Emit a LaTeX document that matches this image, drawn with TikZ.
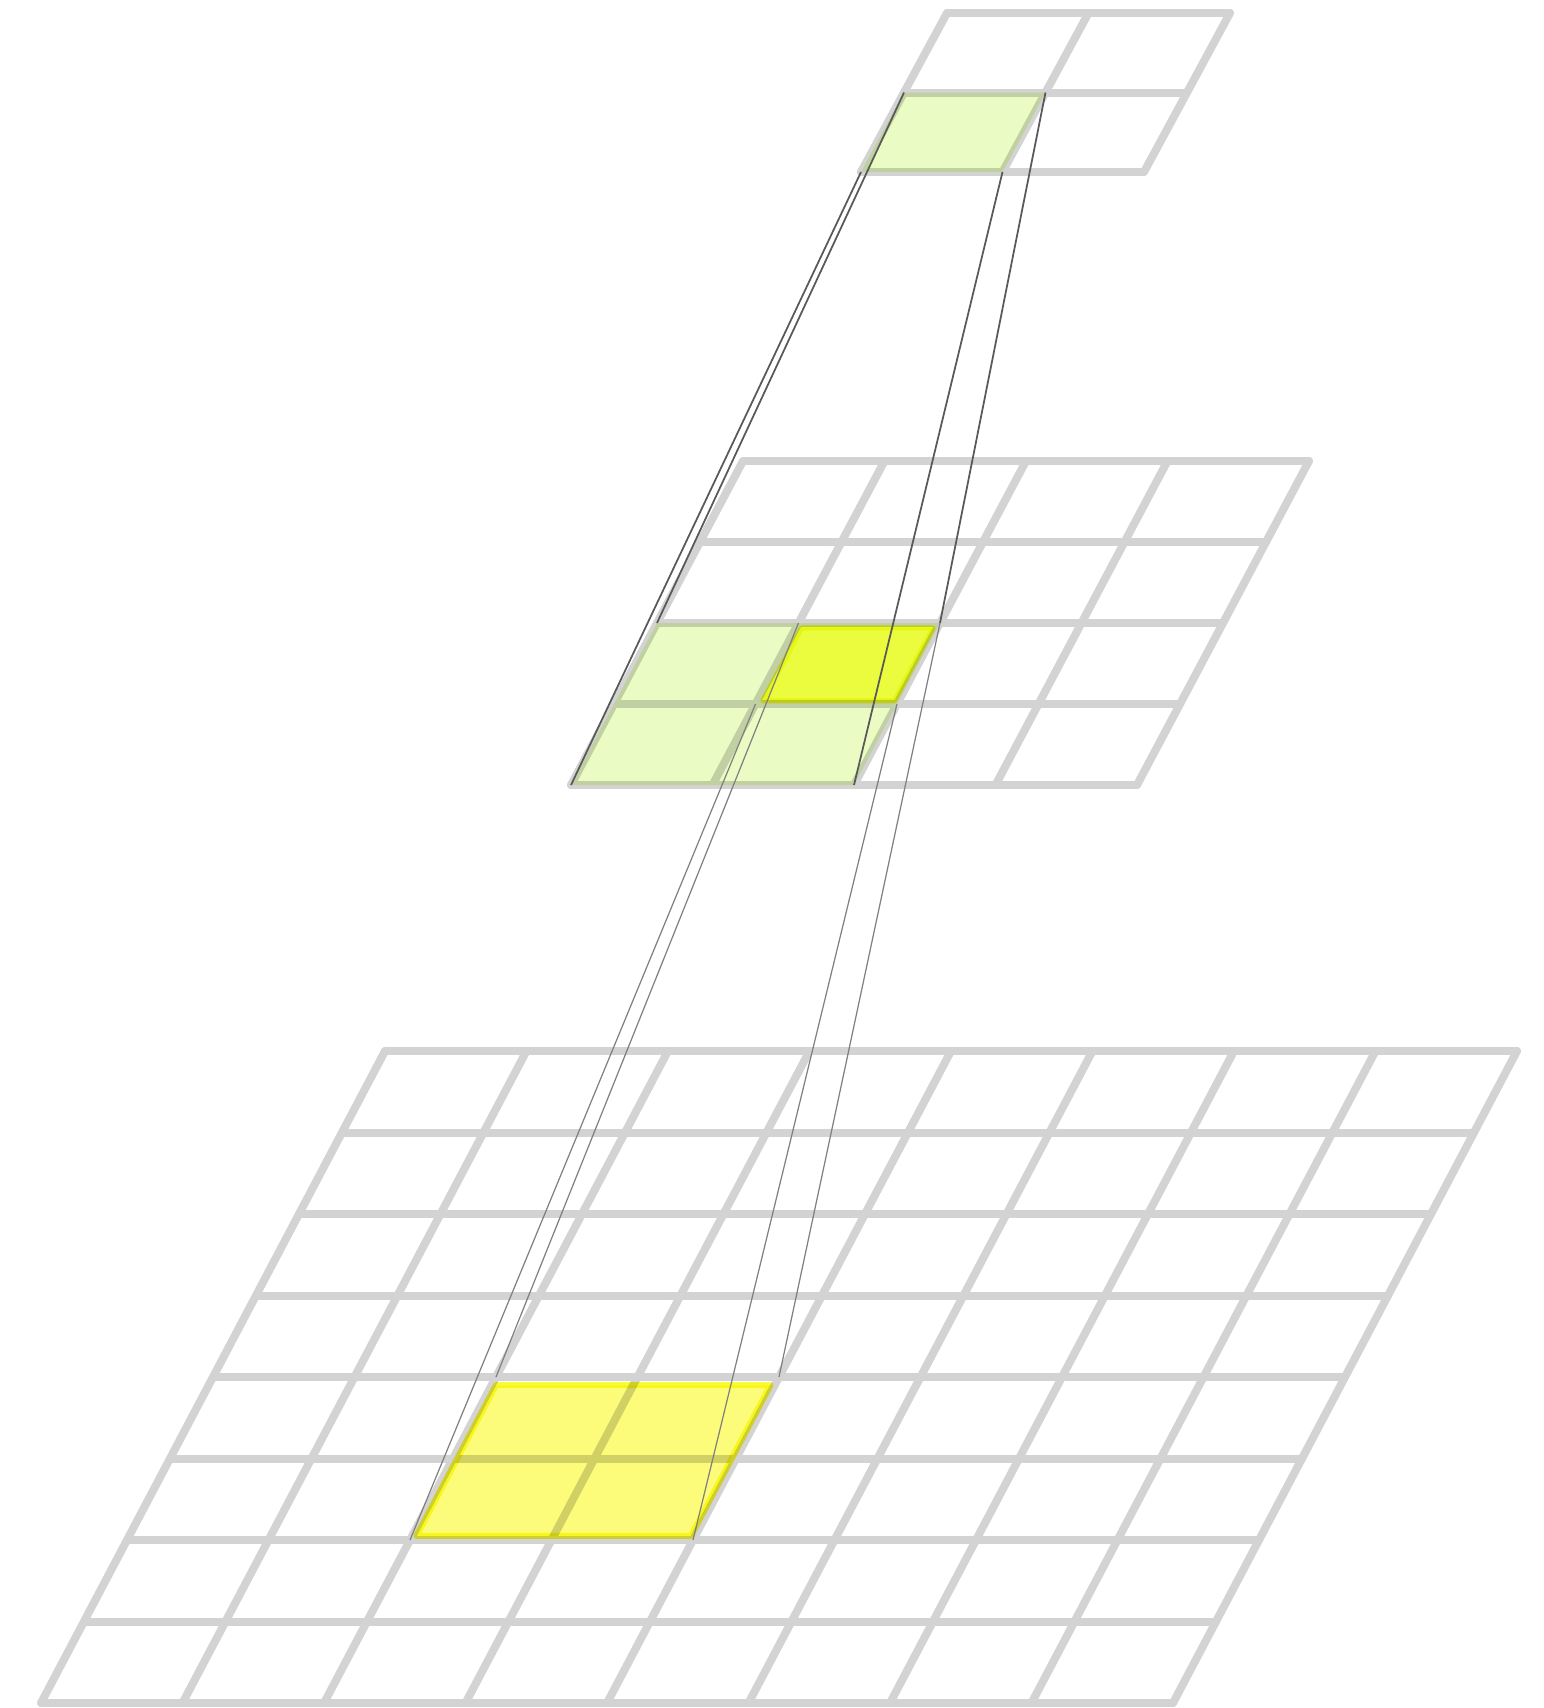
\documentclass[tikz,border=0pt]{standalone}
\usepackage{tikz}
\usepackage{xcolor}
\usetikzlibrary{calc}
\definecolor{gridgray}{RGB}{211,211,211}
\definecolor{cellgreen}{RGB}{234,252,196}
\definecolor{cellyellow}{RGB}{255,255,80}
\definecolor{blockyellow}{RGB}{252,252,122}
\definecolor{edgeyellow}{RGB}{250,250,60}

\begin{document}
\begin{tikzpicture}[
    gridline/.style={gridgray, line width=0.08cm, line cap=round, line join=round},
    greencell/.style={fill=cellgreen},
    yellowcell/.style={fill=cellyellow, draw=edgeyellow, line width=0.05cm, line join=round},
    yellowblock/.style={fill=blockyellow, draw=edgeyellow, line width=0.06cm, line join=round},
    link/.style={black!65, line width=0.5pt},
    thinlink/.style={black!50, line width=0.35pt}
  ]
  \def\cw{1.415}
  \def\sk{0.43}
  \useasboundingbox (0,0) rectangle (15.43,-17.08);

  % top layer, 2x2
  \begin{scope}[shift={(9.47,-0.13)}, x={(\cw cm,0cm)}, y={(-\sk cm,-0.795cm)}]
    \foreach \k in {0,...,2}{
      \draw[gridline] (0,\k) -- (2,\k);
      \draw[gridline] (\k,0) -- (\k,2);
    }
    \begin{scope}[blend mode=multiply]
      \fill[greencell] (0,1) -- (1,1) -- (1,2) -- (0,2) -- cycle;
    \end{scope}
    \coordinate (tc-nw) at (0,1);
    \coordinate (tc-ne) at (1,1);
    \coordinate (tc-sw) at (0,2);
    \coordinate (tc-se) at (1,2);
  \end{scope}

  % middle layer, 4x4
  \begin{scope}[shift={(7.43,-4.61)}, x={(\cw cm,0cm)}, y={(-\sk cm,-0.81cm)}]
    \foreach \k in {0,...,4}{
      \draw[gridline] (0,\k) -- (4,\k);
      \draw[gridline] (\k,0) -- (\k,4);
    }
    \begin{scope}[blend mode=multiply]
      \fill[greencell] (0,2) -- (2,2) -- (2,4) -- (0,4) -- cycle;
      \filldraw[yellowcell] (1.04,2.06) -- (1.97,2.06) -- (1.97,2.96) -- (1.04,2.96) -- cycle;
    \end{scope}
    \coordinate (mb-nw) at (0,2);
    \coordinate (mb-ne) at (2,2);
    \coordinate (mb-sw) at (0,4);
    \coordinate (mb-se) at (2,4);
    \coordinate (mc-nw) at (1,2);
    \coordinate (mc-ne) at (2,2);
    \coordinate (mc-sw) at (1,3);
    \coordinate (mc-se) at (2,3);
  \end{scope}

  % bottom layer, 8x8
  \begin{scope}[shift={(3.85,-10.51)}, x={(\cw cm,0cm)}, y={(-\sk cm,-0.815cm)}]
    \foreach \k in {0,...,8}{
      \draw[gridline] (0,\k) -- (8,\k);
      \draw[gridline] (\k,0) -- (\k,8);
    }
    \begin{scope}[blend mode=multiply]
      \filldraw[yellowblock] (2.03,4.1) -- (3.97,4.1) -- (3.97,5.95) -- (2.03,5.95) -- cycle;
    \end{scope}
    \coordinate (bb-nw) at (2,4);
    \coordinate (bb-ne) at (4,4);
    \coordinate (bb-sw) at (2,6);
    \coordinate (bb-se) at (4,6);
  \end{scope}

  % receptive field lines
  \draw[link] (tc-nw) -- (mb-nw);
  \draw[link] (tc-sw) -- (mb-sw);
  \draw[link] (tc-ne) -- (mb-ne);
  \draw[link] (tc-se) -- (mb-se);
  \draw[thinlink] (mc-nw) -- (bb-nw);
  \draw[thinlink] (mc-sw) -- (bb-sw);
  \draw[thinlink] (mc-ne) -- (bb-ne);
  \draw[thinlink] (mc-se) -- (bb-se);
\end{tikzpicture}
\end{document}
